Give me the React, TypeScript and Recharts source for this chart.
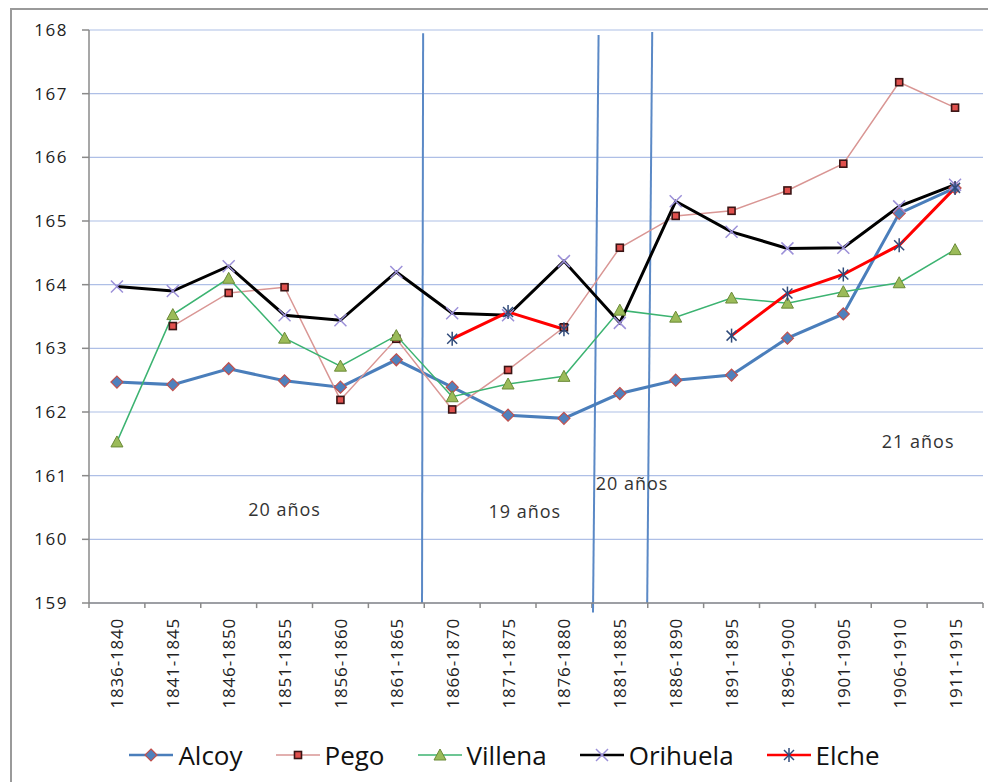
import { CartesianGrid, Legend, Line, LineChart, ReferenceDot, ReferenceLine, XAxis, YAxis } from "recharts"

const periods = [
  "1836-1840", "1841-1845", "1846-1850", "1851-1855", "1856-1860", "1861-1865", "1866-1870", "1871-1875",
  "1876-1880", "1881-1885", "1886-1890", "1891-1895", "1896-1900", "1901-1905", "1906-1910", "1911-1915",
]

const alcoy = [162.47, 162.43, 162.68, 162.49, 162.39, 162.82, 162.39, 161.95, 161.9, 162.29, 162.5, 162.58, 163.16, 163.54, 165.12, 165.52]
const pego = [null, 163.35, 163.87, 163.96, 162.19, 163.15, 162.04, 162.66, 163.33, 164.58, 165.08, 165.16, 165.48, 165.9, 167.18, 166.78]
const villena = [161.53, 163.53, 164.1, 163.16, 162.72, 163.2, 162.24, 162.44, 162.56, 163.6, 163.49, 163.79, 163.71, 163.89, 164.03, 164.55]
const orihuela = [163.97, 163.9, 164.29, 163.52, 163.44, 164.2, 163.55, 163.52, 164.37, 163.4, 165.31, 164.83, 164.57, 164.58, 165.23, 165.57]
const elche = [null, null, null, null, null, null, 163.15, 163.57, 163.3, null, null, 163.2, 163.86, 164.16, 164.62, 165.52]

const yTicks = [159, 160, 161, 162, 163, 164, 165, 166, 167, 168]
const bandEdges = [-0.5, 0.5, 1.5, 2.5, 3.5, 4.5, 5.5, 6.5, 7.5, 8.5, 9.5, 10.5, 11.5, 12.5, 13.5, 14.5, 15.5]

// hand-drawn separators in the original, slightly slanted
const dividers = [
  { x1: 5.48, y1: 167.95, x2: 5.46, y2: 159 },
  { x1: 8.62, y1: 167.92, x2: 8.52, y2: 158.85 },
  { x1: 9.58, y1: 167.97, x2: 9.49, y2: 159 },
]

const notes = [
  { text: "20 años", x: 3, y: 160.46 },
  { text: "19 años", x: 7.3, y: 160.43 },
  { text: "20 años", x: 9.22, y: 160.88 },
  { text: "21 años", x: 14.34, y: 161.54 },
]

const rows = periods.map((p, i) => ({
  idx: i,
  period: p,
  Alcoy: alcoy[i],
  Pego: pego[i],
  Villena: villena[i],
  Orihuela: orihuela[i],
  Elche: elche[i],
}))

const FONT = "'Open Sans', 'Liberation Sans', sans-serif"

function Diamond({ cx, cy }: any) {
  return <path d={`M${cx},${cy - 6}L${cx + 6},${cy}L${cx},${cy + 6}L${cx - 6},${cy}Z`} fill="#4f81bd" stroke="#c0504d" strokeWidth={1.2} />
}
function Square({ cx, cy }: any) {
  return <rect x={cx - 3.5} y={cy - 3.5} width={7} height={7} fill="#e0504d" stroke="#3a1414" strokeWidth={1.6} />
}
function Triangle({ cx, cy }: any) {
  return <path d={`M${cx},${cy - 6}L${cx + 6},${cy + 5}L${cx - 6},${cy + 5}Z`} fill="#9bbb59" stroke="#6b8a37" strokeWidth={1} />
}
function Cross({ cx, cy }: any) {
  return (
    <g stroke="#9b8fd8" strokeWidth={1.5}>
      <line x1={cx - 6} y1={cy - 6} x2={cx + 6} y2={cy + 6} />
      <line x1={cx - 6} y1={cy + 6} x2={cx + 6} y2={cy - 6} />
    </g>
  )
}
function Star({ cx, cy }: any) {
  return (
    <g stroke="#2f4a7a" strokeWidth={1.5}>
      <line x1={cx - 5} y1={cy - 5} x2={cx + 5} y2={cy + 5} />
      <line x1={cx - 5} y1={cy + 5} x2={cx + 5} y2={cy - 5} />
      <line x1={cx} y1={cy - 7} x2={cx} y2={cy + 7} />
    </g>
  )
}

const series = [
  { key: "Alcoy", color: "#4a7ebb", width: 3, Mark: Diamond },
  { key: "Pego", color: "#d99694", width: 1.5, Mark: Square },
  { key: "Villena", color: "#3cb371", width: 1.5, Mark: Triangle },
  { key: "Orihuela", color: "#000000", width: 3, Mark: Cross },
  { key: "Elche", color: "#ff0000", width: 3, Mark: Star },
]

function makeDot(Mark: any) {
  return (props: any) => {
    const { cx, cy, index, value } = props
    if (cx == null || cy == null || value == null) return <g key={`d-${index}`} />
    return <g key={`d-${index}`}><Mark cx={cx} cy={cy} /></g>
  }
}

function PeriodTick({ x, y, payload }: any) {
  return (
    <text
      x={x}
      y={y}
      transform={`rotate(-90 ${x} ${y})`}
      textAnchor="end"
      dominantBaseline="central"
      fontSize={17}
      letterSpacing={0.8}
      fill="#222"
      fontFamily={FONT}
    >
      {periods[payload.value]}
    </text>
  )
}

function LegendBox() {
  return (
    <div style={{ height: 64, display: "flex", alignItems: "center", justifyContent: "center", gap: 33, paddingTop: 10, paddingLeft: 14, boxSizing: "border-box", fontFamily: FONT }}>
      {series.map((s) => (
        <div key={s.key} style={{ display: "flex", alignItems: "center" }}>
          <svg width={46} height={20}>
            <line x1={0} y1={10} x2={44} y2={10} stroke={s.color} strokeWidth={Math.min(s.width, 2.5)} />
            <s.Mark cx={22} cy={10} />
          </svg>
          <span style={{ fontSize: 26, color: "#111", marginLeft: 3, lineHeight: 1 }}>{s.key}</span>
        </div>
      ))}
    </div>
  )
}

export default function App() {
  return (
    <div style={{ marginLeft: 2, width: 984, height: 772, borderTop: "2px solid #9a9a9a", borderLeft: "2px solid #9a9a9a", background: "#fff" }}>
      <LineChart width={984} height={772} data={rows} margin={{ top: 20, right: 13, left: 0, bottom: 0 }}>
        <CartesianGrid horizontal vertical={false} stroke="#aebfe6" strokeWidth={1.2} />
        <XAxis
          dataKey="idx"
          type="number"
          domain={[-0.5, 15.5]}
          ticks={periods.map((_, i) => i)}
          interval={0}
          tick={<PeriodTick />}
          tickLine={false}
          tickSize={6}
          tickMargin={9}
          height={115}
          axisLine={{ stroke: "#8a8a8a", strokeWidth: 1.5 }}
          allowDataOverflow
        />
        <YAxis
          type="number"
          domain={[159, 168]}
          ticks={yTicks}
          interval={0}
          width={77}
          tickSize={7}
          tickMargin={14}
          axisLine={{ stroke: "#8a8a8a", strokeWidth: 1.5 }}
          tickLine={{ stroke: "#8a8a8a", strokeWidth: 1.5 }}
          tick={{ fontSize: 17, fill: "#222", fontFamily: FONT, letterSpacing: 1.5 }}
        />
        {bandEdges.map((e) => (
          <ReferenceLine
            key={`edge-${e}`}
            segment={[{ x: e, y: 159 }, { x: e, y: 158.92 }]}
            stroke="#8a8a8a"
            strokeWidth={1.5}
            ifOverflow="visible"
          />
        ))}
        {dividers.map((d, i) => (
          <ReferenceLine
            key={`div-${i}`}
            segment={[{ x: d.x1, y: d.y1 }, { x: d.x2, y: d.y2 }]}
            stroke="#5b89c6"
            strokeWidth={2}
            ifOverflow="visible"
          />
        ))}
        {notes.map((n, i) => (
          <ReferenceDot
            key={`note-${i}`}
            x={n.x}
            y={n.y}
            r={0}
            fill="none"
            stroke="none"
            label={{ value: n.text, position: "center", fontSize: 18, fill: "#333", fontFamily: FONT, letterSpacing: 1 }}
          />
        ))}
        {series.map((s) => (
          <Line
            key={s.key}
            dataKey={s.key}
            stroke={s.color}
            strokeWidth={s.width}
            dot={makeDot(s.Mark)}
            activeDot={false}
            isAnimationActive={false}
          />
        ))}
        <Legend verticalAlign="bottom" content={<LegendBox />} />
      </LineChart>
    </div>
  )
}
